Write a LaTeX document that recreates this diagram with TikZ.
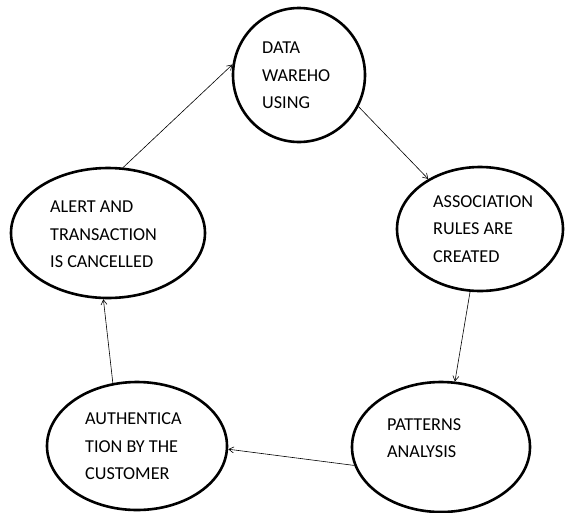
\documentclass[tikz,border=0pt]{standalone}
\usepackage{fontspec}
\setmainfont{Carlito}
\usetikzlibrary{shapes.geometric,arrows.meta}
\begin{document}
\begin{tikzpicture}[x=1pt,y=-1pt,
  stage/.style={ellipse,draw,line width=2.6pt,inner sep=0pt},
  lbl/.style={anchor=west,align=left,inner sep=0pt,font=\fontsize{18.2}{27.5}\selectfont},
  flow/.style={line width=0.6pt,-{Straight Barb[length=5pt,width=6pt]}}]
\useasboundingbox (0,0) rectangle (565,512);
\node[stage,minimum width=132pt,minimum height=134pt] (data) at (299,75) {};
\node[stage,minimum width=166pt,minimum height=124pt] (assoc) at (480,229) {};
\node[stage,minimum width=178pt,minimum height=130pt] (patt) at (441,447) {};
\node[stage,minimum width=180pt,minimum height=128pt] (auth) at (137,446) {};
\node[stage,minimum width=194pt,minimum height=130pt] (alert) at (108,233) {};
\node[lbl] (tdata) at (262,75.5) {DATA\\WAREHO\\USING};
\node[lbl] (tassoc) at (433,229) {ASSOCIATION\\RULES ARE\\CREATED};
\node[lbl] (tpatt) at (387,438) {PATTERNS\\ANALYSIS};
\node[lbl] (tauth) at (85,446.5) {AUTHENTICA\\TION BY THE\\CUSTOMER};
\node[lbl] (talert) at (50,234.5) {ALERT AND\\TRANSACTION\\IS CANCELLED};
\draw[flow] (alert.77) -- (data.171);
\draw[flow] (data.-28) -- (assoc.136);
\draw[flow] (assoc.-99) -- (patt.78);
\draw[flow] (patt.-168) -- (auth.-2);
\draw[flow] (auth.111) -- (alert.-94);
\end{tikzpicture}
\end{document}
